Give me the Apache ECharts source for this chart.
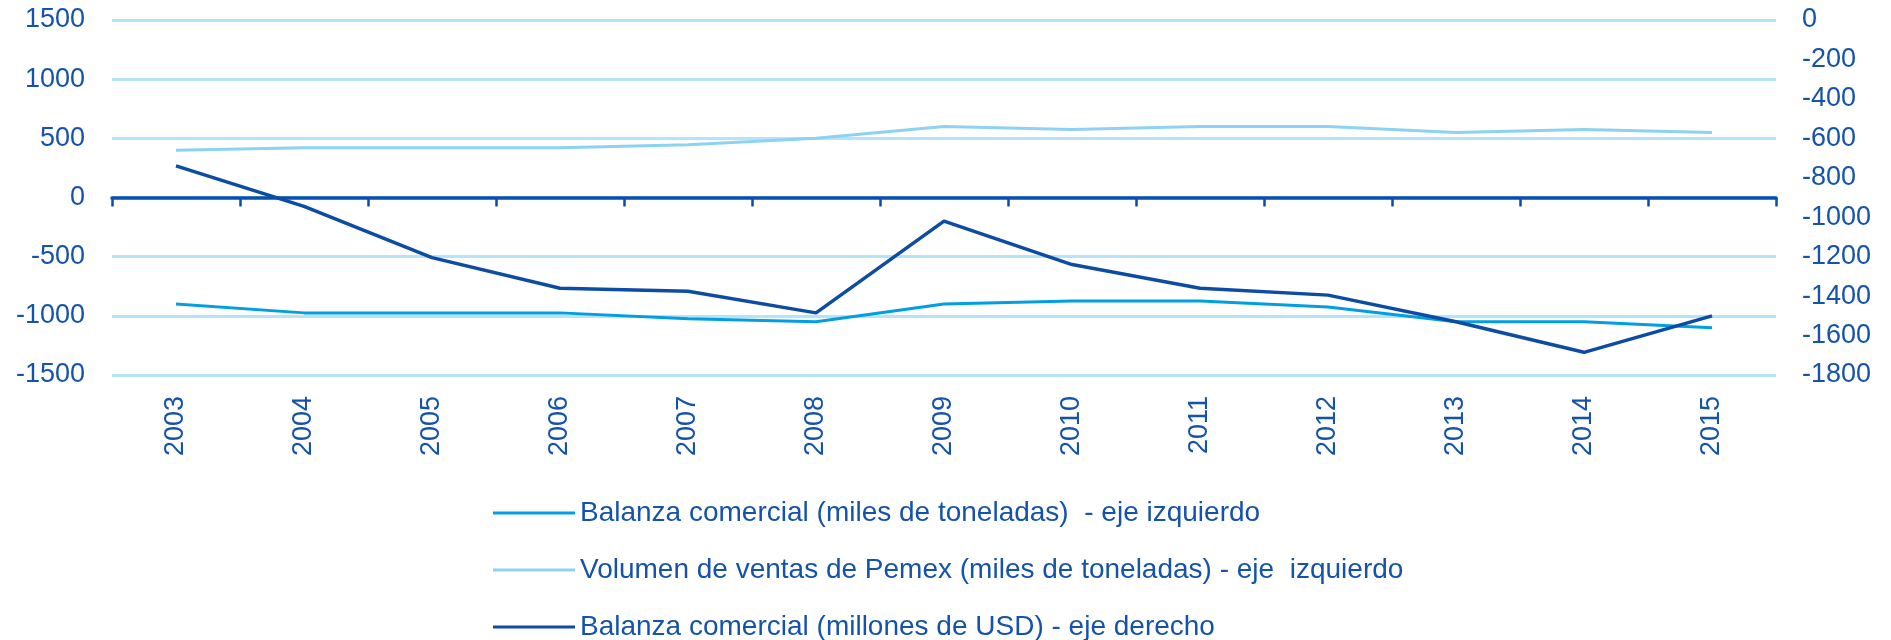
<!DOCTYPE html>
<html>
<head>
<meta charset="utf-8">
<script src="https://cdn.jsdelivr.net/npm/echarts@6/dist/echarts.min.js"></script>
<style>
  html, body { margin: 0; padding: 0; background: #fff; }
  #chart { width: 1891px; height: 640px; }
</style>
</head>
<body>
<div id="chart"></div>
<script>
// data
var years = ['2003', '2004', '2005', '2006', '2007', '2008', '2009', '2010', '2011', '2012', '2013', '2014', '2015'];
var balanzaTon = [-900, -975, -975, -975, -1025, -1050, -900, -875, -875, -925, -1050, -1050, -1100];
var volumenPemex = [400, 420, 420, 420, 445, 500, 600, 575, 600, 600, 550, 575, 550];
var balanzaUsd = [-740, -945, -1205, -1360, -1375, -1485, -1020, -1240, -1360, -1395, -1530, -1685, -1500];

var names = [
  'Balanza comercial (miles de toneladas)  - eje izquierdo',
  'Volumen de ventas de Pemex (miles de toneladas) - eje  izquierdo',
  'Balanza comercial (millones de USD) - eje derecho'
];

var textColor = '#1553aa';
var axisColor = '#0a50b0';
var font = 'Liberation Sans, Arial, sans-serif';

var chartDom = document.getElementById('chart');
var myChart = echarts.init(chartDom);
var option = {
  animation: false,
  textStyle: { fontFamily: font },
  grid: {
    left: 112,
    right: 115,
    top: 20,
    bottom: 265,
    containLabel: false,
    outerBoundsMode: 'none'
  },
  legend: {
    orient: 'vertical',
    left: 488,
    top: 494,
    height: 200,
    icon: 'rect',
    itemWidth: 82,
    itemHeight: 3,
    itemGap: 29,
    textStyle: { color: textColor, fontSize: 28, fontFamily: font },
    data: names
  },
  xAxis: [
    {
      type: 'category',
      data: years,
      boundaryGap: true,
      axisLine: { onZero: true, onZeroAxisIndex: 0, lineStyle: { color: axisColor, width: 3.5 } },
      axisTick: { show: true, length: 9, lineStyle: { color: axisColor, width: 2.5 } },
      axisLabel: { show: false },
      splitLine: { show: false }
    },
    {
      type: 'category',
      data: years,
      position: 'bottom',
      boundaryGap: true,
      axisLine: { show: false, onZero: false },
      axisTick: { show: false },
      axisLabel: { rotate: 90, margin: 21, color: textColor, fontSize: 27, fontFamily: font },
      splitLine: { show: false }
    }
  ],
  yAxis: [
    {
      type: 'value',
      min: -1500,
      max: 1500,
      interval: 500,
      axisLine: { show: false },
      axisTick: { show: false },
      axisLabel: {
        margin: 27, color: textColor, fontSize: 27, fontFamily: font,
        formatter: function (v) { return String(v); }
      },
      splitLine: { lineStyle: { color: '#b5e4f8', width: 3 } }
    },
    {
      type: 'value',
      min: -1800,
      max: 0,
      interval: 200,
      position: 'right',
      axisLine: { show: false },
      axisTick: { show: false },
      axisLabel: {
        margin: 26, color: textColor, fontSize: 27, fontFamily: font,
        formatter: function (v) { return String(v); }
      },
      splitLine: { show: false }
    }
  ],
  series: [
    {
      name: names[0],
      type: 'line',
      data: balanzaTon,
      yAxisIndex: 0,
      showSymbol: false,
      color: '#009fe3',
      lineStyle: { color: '#009fe3', width: 3 }
    },
    {
      name: names[1],
      type: 'line',
      data: volumenPemex,
      yAxisIndex: 0,
      showSymbol: false,
      color: '#8dd2f3',
      lineStyle: { color: '#8dd2f3', width: 3 }
    },
    {
      name: names[2],
      type: 'line',
      data: balanzaUsd,
      yAxisIndex: 1,
      showSymbol: false,
      color: '#0d4ca3',
      lineStyle: { color: '#0d4ca3', width: 3.5 }
    }
  ]
};
option && myChart.setOption(option);
</script>
</body>
</html>
